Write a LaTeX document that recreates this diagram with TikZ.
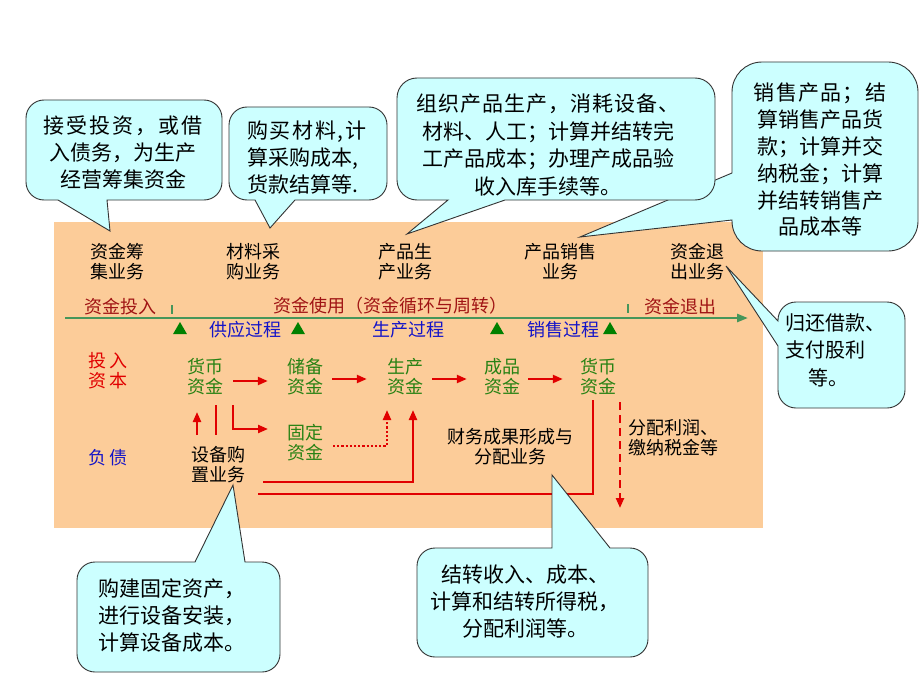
\documentclass[tikz,border=0pt]{standalone}
\usepackage{fontspec}
\setmainfont{Noto Sans CJK SC}
\usetikzlibrary{arrows.meta,shapes.geometric}
\definecolor{peach}{RGB}{252,204,153}
\definecolor{bubfill}{RGB}{204,255,255}
\definecolor{axisgreen}{RGB}{70,150,90}
\definecolor{dkred}{RGB}{160,20,20}
\definecolor{tblue}{RGB}{20,20,200}
\definecolor{tgreen}{RGB}{40,130,20}
\definecolor{ared}{RGB}{225,0,0}
\definecolor{trigreen}{RGB}{0,128,0}
\tikzset{
  cbox/.style={draw=black!80, line width=0.9pt, fill=bubfill},
  lbl/.style={inner sep=0pt, align=center, font=\fontsize{18}{20}\selectfont},
  blk/.style={lbl, text=black},
  rlbl/.style={lbl, text=dkred},
  blbl/.style={lbl, text=tblue},
  glbl/.style={lbl, text=tgreen},
  inlbl/.style={lbl, text=ared},
  ctext/.style={inner sep=0pt, text=black, font=\fontsize{21}{27}\selectfont},
  axis/.style={draw=axisgreen, line width=2.5pt, -{Triangle[length=11pt,width=8pt]}},
  tick/.style={draw=axisgreen, line width=2.5pt},
  tri/.style={regular polygon, regular polygon sides=3, minimum size=16pt, inner sep=0pt, fill=trigreen},
  rline/.style={draw=ared, line width=2.2pt},
  rarr/.style={rline, -{Triangle[length=10pt,width=8pt]}},
  rdot/.style={rarr, dotted},
  rdash/.style={rarr, dash pattern=on 8pt off 5pt},
}
% #1 radius, #2 x1, #3 y1, #4 x2, #5 y2, #6 top, #7 right, #8 bottom, #9 left
\newcommand\bubble[9]{%
  \draw[cbox] (#2+#1,#3) #6 -- (#4-#1,#3) arc[start angle=-90,end angle=0,radius=#1]
   #7 -- (#4,#5-#1) arc[start angle=0,end angle=90,radius=#1]
   #8 -- (#2+#1,#5) arc[start angle=90,end angle=180,radius=#1]
   #9 -- (#2,#3+#1) arc[start angle=180,end angle=270,radius=#1] -- cycle;}
\begin{document}
\begin{tikzpicture}[x=1pt,y=-1pt]
\useasboundingbox (0,0) rectangle (920,690);
\fill[white] (0,0) rectangle (920,690);
\fill[peach] (54,222) rectangle (763,528);

% business labels
\node[blk] (s1) at (117,262) {资金筹\\集业务};
\node[blk] (s2) at (253,262) {材料采\\购业务};
\node[blk] (s3) at (405,262) {产品生\\产业务};
\node[blk] (s4) at (560,262) {产品销售\\业务};
\node[blk] (s5) at (697,262) {资金退\\出业务};

% stage labels
\node[rlbl] (tin) at (120,307) {资金投入};
\node[rlbl] (tuse) at (390,306) {资金使用（资金循环与周转）};
\node[rlbl] (tout) at (680,307) {资金退出};

% axis
\coordinate (ax0) at (65,318);
\coordinate (ax1) at (748,318);
\draw[axis] (ax0) -- (ax1);
\coordinate (tk1a) at (172,305); \coordinate (tk1b) at (172,314);
\coordinate (tk2a) at (628,304); \coordinate (tk2b) at (628,313);
\draw[tick] (tk1a) -- (tk1b);
\draw[tick] (tk2a) -- (tk2b);

% processes
\node[tri] (tr1) at (180,330) {};
\node[blbl] (p1) at (245,330) {供应过程};
\node[tri] (tr2) at (298,330) {};
\node[blbl] (p2) at (408,330) {生产过程};
\node[tri] (tr3) at (497,330) {};
\node[blbl] (p3) at (563,330) {销售过程};
\node[tri] (tr4) at (610,330) {};

% left labels
\node[inlbl] (cap) at (108,371) {投\hspace{3pt}入\\资\hspace{3pt}本};
\node[blbl] (debt) at (108,458) {负\hspace{3pt}债};

% fund nodes
\node[glbl] (m1) at (205,377) {货币\\资金};
\node[glbl] (m2) at (305,377) {储备\\资金};
\node[glbl] (m3) at (405,377) {生产\\资金};
\node[glbl] (m4) at (502,377) {成品\\资金};
\node[glbl] (m5) at (598,377) {货币\\资金};
\node[glbl] (m6) at (305,443) {固定\\资金};

\node[blk] (eq) at (218,465) {设备购\\置业务};
\node[blk] (fin) at (510,447) {财务成果形成与\\分配业务};
\node[blk, anchor=west, align=left] (dist) at (628,438) {分配利润、\\缴纳税金等};

% arrows between funds
\draw[rarr] ([shift={(10,4)}]m1.east) -- ([shift={(-19,4)}]m2.west);
\draw[rarr] ([shift={(9,2)}]m2.east) -- ([shift={(-20,2)}]m3.west);
\draw[rarr] ([shift={(9,2)}]m3.east) -- ([shift={(-17,2)}]m4.west);
\draw[rarr] ([shift={(8,2)}]m4.east) -- ([shift={(-17,2)}]m5.west);

% equipment connectors
\coordinate (u0) at (197,435); \coordinate (u1) at (197,412);
\draw[rarr] (u0) -- (u1);
\coordinate (v0) at (216,405); \coordinate (v1) at (216,435);
\draw[rline] (v0) -- (v1);
\coordinate (l0) at (233,405); \coordinate (l1) at (233,429); \coordinate (l2) at (268,429);
\draw[rarr] (l0) -- (l1) -- (l2);
\coordinate (d0) at (333,446); \coordinate (d1) at (387,446); \coordinate (d2) at (387,410);
\draw[rdot] (d0) -- (d1) -- (d2);
\coordinate (e0) at (263,482); \coordinate (e1) at (413,482); \coordinate (e2) at (413,410);
\draw[rarr] (e0) -- (e1) -- (e2);
\coordinate (f0) at (258,494); \coordinate (f1) at (593,494); \coordinate (f2) at (593,400);
\draw[rline] (f0) -- (f1) -- (f2);
\coordinate (g0) at (620,402); \coordinate (g1) at (620,508);
\draw[rdash] (g0) -- (g1);

% callouts
\bubble{18}{26}{100}{222}{200}{}{}{-- (107,200) -- (110,231) -- (58,200)}{}
\node[ctext, align=center] (c1) at (123,153) {\addfontfeature{LetterSpace=9}接受投资，或借\\入债务，为生产\\经营筹集资金};

\bubble{18}{229}{107}{387}{200}{}{}{-- (295,200) -- (270,228) -- (255,200)}{}
\node[ctext, align=left, anchor=west] (c2) at (247,158) {\addfontfeature{LetterSpace=8}购买材料,计\\算采购成本,\\货款结算等.};

\bubble{30}{732}{62}{918}{251}{}{}{}{-- (732,220) -- (580,237) -- (732,173)}
\node[ctext, align=center, font=\fontsize{21}{26.8}\selectfont] (c4) at (820,160) {\addfontfeature{LetterSpace=6}销售产品；结\\算销售产品货\\款；计算并交\\纳税金；计算\\并结转销售产\\品成本等};

\bubble{20}{397}{78}{715}{200}{}{}{-- (505,200) -- (407,234) -- (448,200)}{}
\node[ctext, align=center, font=\fontsize{21}{27.7}\selectfont] (c3) at (548,145) {\addfontfeature{LetterSpace=5}组织产品生产，消耗设备、\\材料、人工；计算并结转完\\工产品成本；办理产成品验\\收入库手续等。};

\bubble{18}{778}{302}{905}{408}{}{}{}{-- (778,346) -- (726,266) -- (778,321)}
\node[ctext, align=left, anchor=west, font=\fontsize{20}{27.5}\selectfont] (c5) at (785,350) {归还借款、\\支付股利\\\hspace*{1.15em}等。};

\bubble{18}{77}{562}{280}{672}{-- (195,562) -- (233,485) -- (245,562)}{}{}{}
\node[ctext, align=left, anchor=west] (c6) at (98,616) {购建固定资产，\\进行设备安装，\\计算设备成本。};

\bubble{18}{417}{548}{648}{657}{-- (552,548) -- (552,475) -- (610,548)}{}{}{}
\node[ctext, align=center] (c7) at (525,602) {结转收入、成本、\\计算和结转所得税，\\分配利润等。};
\end{tikzpicture}
\end{document}
